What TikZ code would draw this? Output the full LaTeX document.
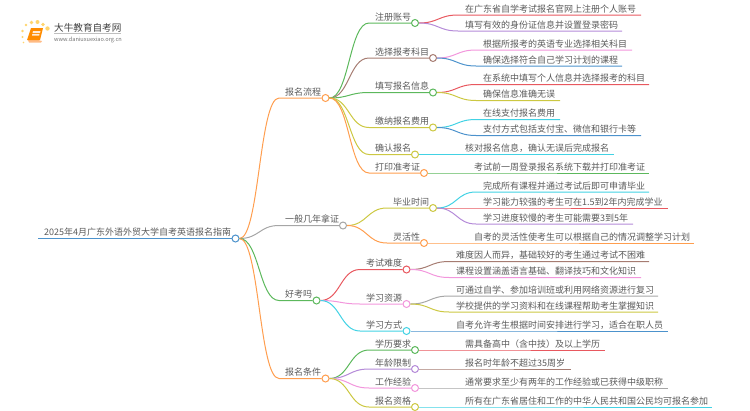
\documentclass[tikz,border=0pt]{standalone}
\usepackage{fontspec}
\setmainfont{Noto Sans CJK SC}
\usetikzlibrary{calc}
\definecolor{cgreen}{HTML}{5CB85C}
\definecolor{cbrown}{HTML}{A67C72}
\definecolor{colive}{HTML}{CCC842}
\definecolor{corange}{HTML}{FF9E4F}
\definecolor{cred}{HTML}{E8585F}
\definecolor{cpurple}{HTML}{B48AD8}
\definecolor{cpink}{HTML}{F296DC}
\definecolor{cblue}{HTML}{4C92CC}
\definecolor{ccyan}{HTML}{42D2E4}
\definecolor{cgray}{HTML}{A6A6A6}
\definecolor{ctext}{HTML}{5A5A5A}
\definecolor{cgold}{HTML}{FFD56E}
\tikzset{
  dotnode/.style={circle,draw=#1,fill=white,line width=1pt,minimum size=7pt,inner sep=0pt},
  linkline/.style={draw=#1,line width=1pt},
  lbl/.style={anchor=base west,inner sep=0pt,text=ctext,font=\fontsize{9}{9}\selectfont},
}
% curved connector from a parent node to a bend, then straight on to the end
\newcommand{\curvelink}[4]{% parent, bend coordinate, end, colour
  \draw[linkline=#4] let \p1=(#1.east),\p2=(#2),\n1={0.5*(\x2-\x1)} in
    (#1.east) .. controls +(\n1,0) and ($(#2)-(\n1,0)$) .. (#2) -- (#3);}
% branch: name, parent, colour, circle x, y, text x, label
\newcommand{\Br}[7]{%
  \coordinate (#1-b) at (#6-6,#5);
  \node[dotnode=#3] (#1) at (#4,#5) {};
  \curvelink{#2}{#1-b}{#1.west}{#3}
  \node[lbl] (#1-t) at (#6,#5-3) {#7};}
% leaf: name, parent, colour, end x, y, text x, label
\newcommand{\Lf}[7]{%
  \coordinate (#1-b) at (#6-7,#5);
  \coordinate (#1-e) at (#4,#5);
  \curvelink{#2}{#1-b}{#1-e}{#3}
  \node[lbl] (#1-t) at (#6,#5-3) {#7};}
\begin{document}
\begin{tikzpicture}[x=1pt,y=-1pt]
\useasboundingbox (0,0) rectangle (750,410);
% logo
\fill[cgold] (26,25) circle (1.4) (31.5,22.5) circle (1.8) (37.5,22) circle (2) (43,24.5) circle (1.8) (47.5,28.5) circle (2.2) (22.5,31) circle (1.3) (22.5,37) circle (1.1) (23.5,42.5) circle (0.9);
\fill[corange!70!white] (28,40) -- (38,40) -- (42,41) -- (41,42.5) -- (29,42.5) to[bend left=20] cycle;
\fill[orange!90!yellow] (31,28) -- (43,28) -- (40,40) -- (27,40) -- cycle;
\fill[white!85!orange] (33,31) -- (40.5,31) -- (40,33) -- (32.5,33) -- cycle (32.3,34) -- (39.5,34) -- (39.2,35.5) -- (32,35.5) -- cycle;
\node[anchor=base west,inner sep=0pt,text=black!75,font=\fontsize{9.6}{10}\selectfont] (logot) at (54,31) {大牛教育自考网};
\draw[black!25,line width=0.5pt] (54,33.5) -- (121,33.5);
\node[anchor=base west,inner sep=0pt,text=black!55,font=\fontsize{5.6}{6}\selectfont] (logou) at (54,41) {www.daniuxuexiao.org.cn};
% root
\coordinate (rootstart) at (38,238.5);
\node[dotnode=cblue] (root) at (235.5,238.5) {};
\draw[linkline=cblue,line width=1.3pt] (rootstart) -- (root.west);
\node[lbl] (root-t) at (44,235.5) {2025年4月广东外语外贸大学自考英语报名指南};
% level 1
\Br{a}{root}{corange}{325.5}{98}{285}{报名流程}
\Br{b}{root}{cgray}{343}{225.5}{285}{一般几年拿证}
\Br{c}{root}{cgreen}{316.5}{300.5}{285}{好考吗}
\Br{d}{root}{corange}{325.5}{378.5}{285}{报名条件}
% level 2
\Br{a1}{a}{cgreen}{415}{23}{375}{注册账号}
\Br{a2}{a}{cbrown}{433}{58}{375}{选择报考科目}
\Br{a3}{a}{cgreen}{433}{92.5}{375}{填写报名信息}
\Br{a4}{a}{colive}{433}{127.5}{375}{缴纳报名费用}
\Br{a5}{a}{colive}{415}{154.5}{375}{确认报名}
\Br{a6}{a}{corange}{424}{173}{375}{打印准考证}
\Br{b1}{b}{colive}{433}{208}{393}{毕业时间}
\Br{b2}{b}{corange}{424}{243}{393}{灵活性}
\Br{c1}{c}{cred}{406.5}{269.5}{366}{考试难度}
\Br{c2}{c}{cpink}{406.5}{304}{366}{学习资源}
\Br{c3}{c}{ccyan}{406.5}{331}{366}{学习方式}
\Br{d1}{d}{cgreen}{415}{350}{375}{学历要求}
\Br{d2}{d}{cpurple}{415}{369}{375}{年龄限制}
\Br{d3}{d}{cpink}{415}{388}{375}{工作经验}
\Br{d4}{d}{colive}{415}{407}{375}{报名资格}
% leaves
\Lf{l1}{a1}{cred}{641}{15}{465}{在广东省自学考试报名官网上注册个人账号}
\Lf{l2}{a1}{cpurple}{622}{31}{465}{填写有效的身份证信息并设置登录密码}
\Lf{l3}{a2}{cpink}{632}{50}{483}{根据所报考的英语专业选择相关科目}
\Lf{l4}{a2}{cblue}{622}{66}{483}{确保选择符合自己学习计划的课程}
\Lf{l5}{a3}{cred}{649}{84.5}{483}{在系统中填写个人信息并选择报考的科目}
\Lf{l6}{a3}{colive}{560}{100.5}{483}{确保信息准确无误}
\Lf{l7}{a4}{ccyan}{560}{119.5}{483}{在线支付报名费用}
\Lf{l8}{a4}{cblue}{641}{135.5}{483}{支付方式包括支付宝、微信和银行卡等}
\Lf{l9}{a5}{ccyan}{614}{154.5}{465}{核对报名信息，确认无误后完成报名}
\Lf{l10}{a6}{cgreen}{649}{173}{474}{考试前一周登录报名系统下载并打印准考证}
\Lf{l11}{b1}{ccyan}{649}{192}{483}{完成所有课程并通过考试后即可申请毕业}
\Lf{l12}{b1}{cred}{668}{208}{483}{学习能力较强的考生可在1.5到2年内完成学业}
\Lf{l13}{b1}{cpurple}{633}{224}{483}{学习进度较慢的考生可能需要3到5年}
\Lf{l14}{b2}{corange}{694}{243}{474}{自考的灵活性使考生可以根据自己的情况调整学习计划}
\Lf{l15}{c1}{cbrown}{649}{261.5}{456}{难度因人而异，基础较好的考生通过考试不困难}
\Lf{l16}{c1}{cpink}{641}{277.5}{456}{课程设置涵盖语言基础、翻译技巧和文化知识}
\Lf{l17}{c2}{cgray}{658}{296}{456}{可通过自学、参加培训班或利用网络资源进行复习}
\Lf{l18}{c2}{colive}{658}{312}{456}{学校提供的学习资料和在线课程帮助考生掌握知识}
\Lf{l19}{c3}{cblue}{668}{331}{456}{自考允许考生根据时间安排进行学习，适合在职人员}
\Lf{l20}{d1}{cred}{605}{350}{465}{需具备高中（含中技）及以上学历}
\Lf{l21}{d2}{cbrown}{571}{369}{465}{报名时年龄不超过35周岁}
\Lf{l22}{d3}{cgray}{668}{388}{465}{通常要求至少有两年的工作经验或已获得中级职称}
\Lf{l23}{d4}{ccyan}{712}{407}{465}{所有在广东省居住和工作的中华人民共和国公民均可报名参加}
\end{tikzpicture}
\end{document}
